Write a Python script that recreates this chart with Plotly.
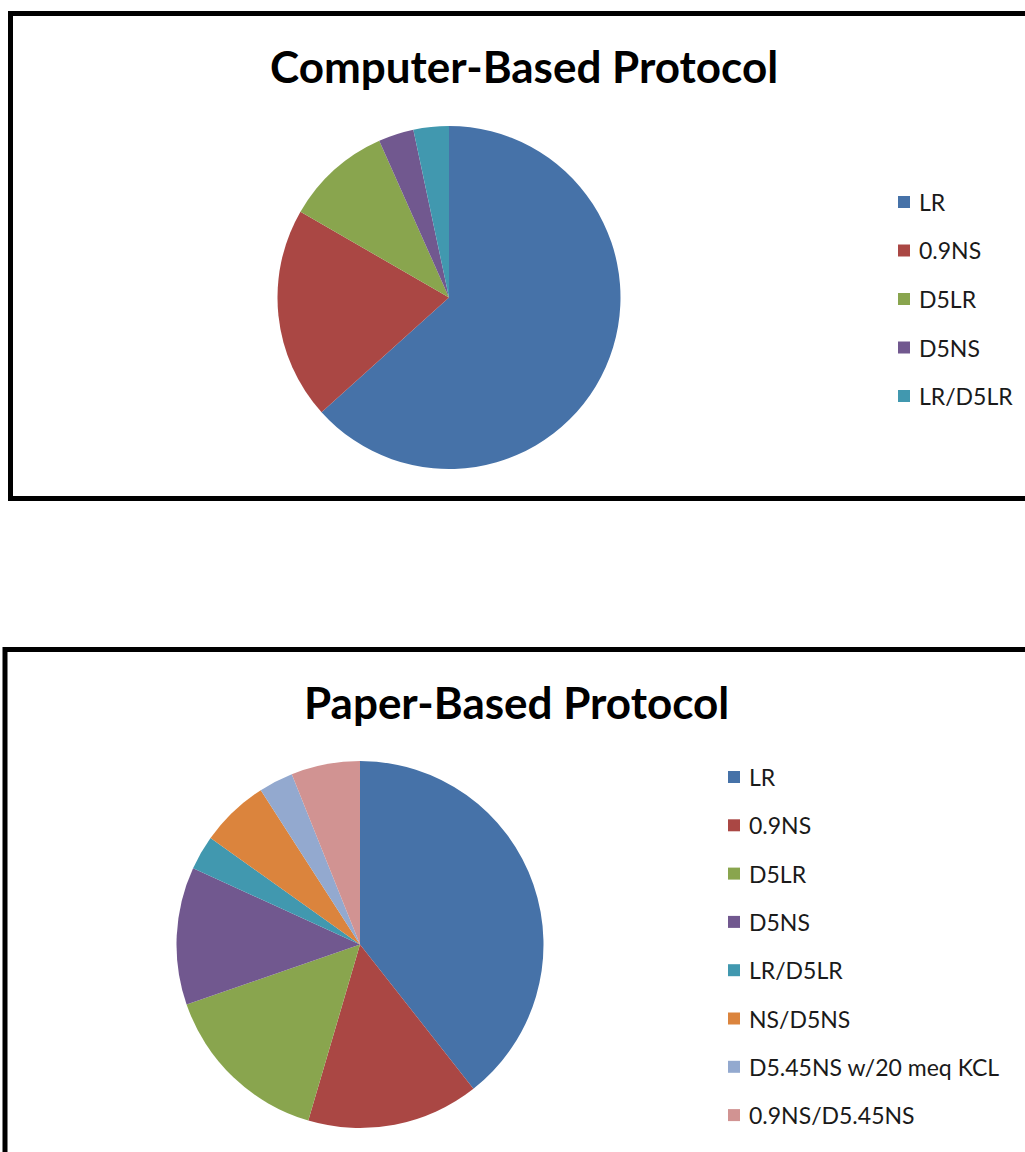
import plotly.graph_objects as go

W, H = 1025, 1152

# ---- data ----
computer_labels = ["LR", "0.9NS", "D5LR", "D5NS", "LR/D5LR"]
computer_values = [19, 6, 3, 1, 1]

paper_labels = ["LR", "0.9NS", "D5LR", "D5NS", "LR/D5LR", "NS/D5NS",
                "D5.45NS w/20 meq KCL", "0.9NS/D5.45NS"]
paper_values = [13, 5, 5, 4, 1, 2, 1, 2]

colors = ["#4672A8", "#AA4744", "#89A54E", "#71588F", "#4198AF",
          "#DB843D", "#93A9CF", "#D19392"]

titles = ["Computer-Based Protocol", "Paper-Based Protocol"]


def px(x):
    return x / W


def py(y):
    return 1 - y / H


def square_domain(cx, cy, r):
    return dict(x=[px(cx - r), px(cx + r)], y=[py(cy + r), py(cy - r)])


fig = go.Figure()

fig.add_trace(go.Pie(
    labels=computer_labels, values=computer_values,
    marker=dict(colors=colors[:len(computer_labels)], line=dict(width=0)),
    sort=False, direction="clockwise", rotation=0,
    textinfo="none", hoverinfo="label+value+percent",
    domain=square_domain(449, 297.5, 171.5), showlegend=False,
))

fig.add_trace(go.Pie(
    labels=paper_labels, values=paper_values,
    marker=dict(colors=colors[:len(paper_labels)], line=dict(width=0)),
    sort=False, direction="clockwise", rotation=0,
    textinfo="none", hoverinfo="label+value+percent",
    domain=square_domain(360, 944.5, 183.5), showlegend=False,
))

shapes = []
annotations = []

# chart frames
shapes.append(dict(type="rect", xref="paper", yref="paper",
                   x0=px(10.5), x1=px(1040), y0=py(13.5), y1=py(498.5),
                   line=dict(color="black", width=5), fillcolor="rgba(0,0,0,0)", layer="below"))
shapes.append(dict(type="rect", xref="paper", yref="paper",
                   x0=px(5), x1=px(1040), y0=py(649.5), y1=py(1170),
                   line=dict(color="black", width=5), fillcolor="rgba(0,0,0,0)", layer="below"))

# titles
title_font = dict(family="Lato", size=44, color="black")
annotations.append(dict(text="<b>" + titles[0] + "</b>", x=px(524), y=py(66),
                        xref="paper", yref="paper", xanchor="center", yanchor="middle",
                        showarrow=False, font=title_font))
annotations.append(dict(text="<b>" + titles[1] + "</b>", x=px(516), y=py(702),
                        xref="paper", yref="paper", xanchor="center", yanchor="middle",
                        showarrow=False, font=title_font))

# manual legends
legend_font = dict(family="Lato", size=23, color="#1a1a1a")


def add_legend(labels, sq_x, y0, step):
    for i, lab in enumerate(labels):
        yc = y0 + i * step
        shapes.append(dict(type="rect", xref="paper", yref="paper",
                           x0=px(sq_x), x1=px(sq_x + 12), y0=py(yc + 6), y1=py(yc - 6),
                           fillcolor=colors[i], line=dict(width=0)))
        annotations.append(dict(text=lab, x=px(sq_x + 19), y=py(yc), xref="paper", yref="paper",
                                xanchor="left", yanchor="middle", showarrow=False,
                                font=legend_font))


add_legend(computer_labels, 898, 202, 48.5)
add_legend(paper_labels, 728, 777, 48.3)

fig.update_layout(
    width=W, height=H,
    margin=dict(l=0, r=0, t=0, b=0),
    paper_bgcolor="white", plot_bgcolor="white",
    shapes=shapes, annotations=annotations,
    showlegend=False,
)

fig.write_html("out.html",
               config={"displayModeBar": False},
               post_script="document.body.style.margin='0';document.body.style.overflow='hidden';"
                           "window.dispatchEvent(new Event('resize'));")
